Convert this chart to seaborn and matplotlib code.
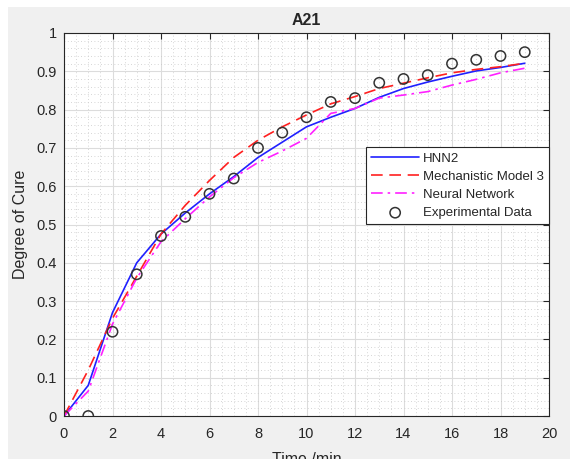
import numpy as np
import pandas as pd
import matplotlib
matplotlib.use("Agg")
import matplotlib.pyplot as plt
from matplotlib.ticker import MultipleLocator
from matplotlib.patches import Rectangle
import seaborn as sns

# Cure kinetics for sample A21
time_min = list(range(20))
experimental = [0.0, 0.0, 0.22, 0.37, 0.47, 0.52, 0.58, 0.62, 0.70, 0.74,
                0.78, 0.82, 0.83, 0.87, 0.88, 0.89, 0.92, 0.93, 0.94, 0.95]
hnn2 = [0.0, 0.08, 0.27, 0.40, 0.475, 0.53, 0.58, 0.625, 0.675, 0.715,
        0.755, 0.78, 0.803, 0.832, 0.855, 0.872, 0.887, 0.901, 0.910, 0.921]
mechanistic3 = [0.0, 0.12, 0.255, 0.365, 0.475, 0.55, 0.615, 0.675, 0.72, 0.755,
                0.786, 0.815, 0.834, 0.855, 0.869, 0.883, 0.896, 0.905, 0.912, 0.921]
neural_net = [0.0, 0.065, 0.24, 0.36, 0.455, 0.515, 0.572, 0.622, 0.662, 0.692,
              0.725, 0.79, 0.803, 0.83, 0.838, 0.847, 0.864, 0.879, 0.896, 0.908]

sns.set_style("white")
plt.rcParams["font.family"] = ["Liberation Sans", "DejaVu Sans"]

fig = plt.figure(figsize=(5.70, 4.59), dpi=100, facecolor="white")
fig.patches.append(Rectangle((8 / 570, 0), 1 - 8 / 570, 1 - 7 / 459,
                             transform=fig.transFigure, facecolor="#f0f0f0",
                             edgecolor="none", zorder=-10))
ax = fig.add_axes([64 / 570, 43 / 459, 485 / 570, 383 / 459])
ax.set_facecolor("white")

df = pd.DataFrame({"t": time_min, "exp": experimental, "hnn2": hnn2,
                   "mech": mechanistic3, "nn": neural_net})

sns.lineplot(data=df, x="t", y="hnn2", ax=ax, color="#2020ff", lw=1.2,
             label="HNN2")
sns.lineplot(data=df, x="t", y="mech", ax=ax, color="#ff2020", lw=1.2,
             label="Mechanistic Model 3", dashes=False)
ax.lines[-1].set_dashes([7, 4])
sns.lineplot(data=df, x="t", y="nn", ax=ax, color="#ff20ff", lw=1.2,
             label="Neural Network")
ax.lines[-1].set_dashes([7, 3, 1.5, 3])
sns.scatterplot(data=df, x="t", y="exp", ax=ax, marker="o", s=55,
                facecolor="none", edgecolor="#333333", linewidth=1.1,
                label="Experimental Data", zorder=5)

ax.set_xlim(0, 20)
ax.set_ylim(0, 1)
ax.xaxis.set_major_locator(MultipleLocator(2))
ax.xaxis.set_minor_locator(MultipleLocator(0.5))
ax.yaxis.set_major_locator(MultipleLocator(0.1))
ax.yaxis.set_minor_locator(MultipleLocator(0.02))
ax.set_yticks(np.arange(0, 1.01, 0.1))
ax.set_yticklabels(["0", "0.1", "0.2", "0.3", "0.4", "0.5", "0.6", "0.7",
                    "0.8", "0.9", "1"])

ax.grid(which="major", color="#dcdcdc", lw=0.8, ls="-")
ax.grid(which="minor", color="#c8c8c8", lw=0.6, ls=(0, (1, 3)))
ax.set_axisbelow(True)

ax.tick_params(which="major", direction="in", length=4, width=0.8,
               top=True, right=True, labelsize=10.5, colors="#262626")
ax.tick_params(axis="x", which="major", pad=8)
ax.tick_params(axis="y", which="major", pad=5)
ax.tick_params(which="minor", length=0, top=True, right=True)
for sp in ax.spines.values():
    sp.set_color("#262626")
    sp.set_linewidth(0.8)

ax.set_title("A21", fontsize=11.5, fontweight="bold", pad=6)
ax.set_xlabel("Time /min", fontsize=11.5, color="#262626", labelpad=8)
ax.set_ylabel("Degree of Cure", fontsize=11.5, color="#262626", labelpad=6)

leg = ax.legend(loc="upper right", bbox_to_anchor=(1.0, 0.702), fontsize=9.5,
                frameon=True, fancybox=False, edgecolor="#262626",
                framealpha=1, borderpad=0.4, labelspacing=0.45,
                handlelength=3.6, handletextpad=0.3, borderaxespad=0)
leg.get_frame().set_linewidth(0.8)

fig.savefig("out.png", dpi=100, facecolor=fig.get_facecolor())
